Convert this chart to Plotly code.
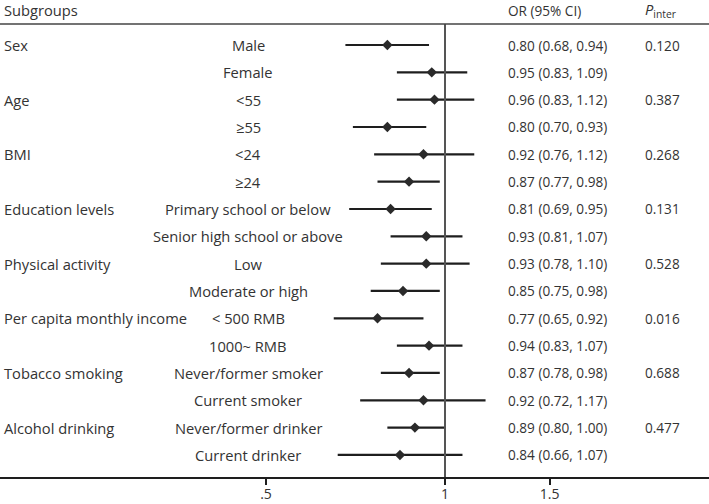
import plotly.graph_objects as go
import math

categories = ["Sex", "Age", "BMI", "Education levels", "Physical activity",
              "Per capita monthly income", "Tobacco smoking", "Alcohol drinking"]
subgroups = ["Male", "Female", "<55", "≥55", "<24", "≥24",
             "Primary school or below", "Senior high school or above",
             "Low", "Moderate or high", "< 500 RMB", "1000~ RMB",
             "Never/former smoker", "Current smoker",
             "Never/former drinker", "Current drinker"]
or_vals = [0.80, 0.95, 0.96, 0.80, 0.92, 0.87, 0.81, 0.93,
           0.93, 0.85, 0.77, 0.94, 0.87, 0.92, 0.89, 0.84]
ci_low = [0.68, 0.83, 0.83, 0.70, 0.76, 0.77, 0.69, 0.81,
          0.78, 0.75, 0.65, 0.83, 0.78, 0.72, 0.80, 0.66]
ci_high = [0.94, 1.09, 1.12, 0.93, 1.12, 0.98, 0.95, 1.07,
           1.10, 0.98, 0.92, 1.07, 0.98, 1.17, 1.00, 1.07]
p_inter = ["0.120", "0.387", "0.268", "0.131", "0.528", "0.016", "0.688", "0.477"]
tick_vals = [0.5, 1, 1.5]
tick_text = [".5", "1", "1.5"]

W, H = 709, 504
FONT = "Open Sans"
TXT = "#333333"
LBL = 14.7
NUM = 13.6

rows = list(range(len(subgroups)))

# CI lines as one trace with gaps
lx, ly = [], []
for i in rows:
    lx += [ci_low[i], ci_high[i], None]
    ly += [i, i, None]

fig = go.Figure()
fig.add_trace(go.Scatter(x=lx, y=ly, mode="lines",
                         line=dict(color="#1e1e1e", width=2.2),
                         hoverinfo="skip", showlegend=False))
fig.add_trace(go.Scatter(x=or_vals, y=rows, mode="markers",
                         marker=dict(symbol="diamond", size=8, color="#2a2a2a"),
                         showlegend=False))

# pixel geometry
x1_px = 445.0
px_per_log10 = (445.0 - 266.0) / math.log10(2)
xr = [(0 - x1_px) / px_per_log10, (W - x1_px) / px_per_log10]
top_px, bot_px = 24.0, 477.0
row0_px, step_px = 45.0, 27.33
yr = [(bot_px - row0_px) / step_px, (top_px - row0_px) / step_px]

def px(x):
    return x / W

ann = []
for k, c in enumerate(categories):
    ann.append(dict(x=px(2), y=2 * k, xref="paper", yref="y", text=c,
                    xanchor="left", yanchor="middle", showarrow=False,
                    font=dict(size=LBL)))
for i, s in enumerate(subgroups):
    ann.append(dict(x=px(248), y=i, xref="paper", yref="y", text=s,
                    xanchor="center", yanchor="middle", showarrow=False,
                    font=dict(size=LBL)))
    ann.append(dict(x=px(506), y=i, xref="paper", yref="y",
                    text=f"{or_vals[i]:.2f} ({ci_low[i]:.2f}, {ci_high[i]:.2f})",
                    xanchor="left", yanchor="middle", showarrow=False,
                    font=dict(size=NUM)))
for k, p in enumerate(p_inter):
    ann.append(dict(x=px(643), y=2 * k, xref="paper", yref="y", text=p,
                    xanchor="left", yanchor="middle", showarrow=False,
                    font=dict(size=NUM)))

hdr_y = (bot_px - 10.0) / (bot_px - top_px)
ann.append(dict(x=px(2), y=hdr_y, xref="paper", yref="paper", text="Subgroups",
                xanchor="left", yanchor="middle", showarrow=False,
                font=dict(size=LBL)))
ann.append(dict(x=px(506), y=hdr_y, xref="paper", yref="paper", text="OR (95% CI)",
                xanchor="left", yanchor="middle", showarrow=False,
                font=dict(size=NUM)))
ann.append(dict(x=px(643), y=hdr_y, xref="paper", yref="paper",
                text="<i>P</i><sub>inter</sub>",
                xanchor="left", yanchor="middle", showarrow=False,
                font=dict(size=LBL)))

shapes = [
    dict(type="line", xref="x", yref="paper", x0=1, x1=1, y0=0, y1=1,
         line=dict(color="#555555", width=2)),
    dict(type="line", xref="paper", yref="paper", x0=0, x1=1, y0=1, y1=1,
         line=dict(color="#444444", width=1.5)),
]

fig.update_layout(
    width=W, height=H,
    margin=dict(l=0, r=0, t=int(top_px), b=int(H - bot_px), autoexpand=False),
    paper_bgcolor="white", plot_bgcolor="white",
    font=dict(family=FONT, size=14, color=TXT),
    annotations=ann, shapes=shapes,
    xaxis=dict(type="log", range=xr, tickvals=tick_vals, ticktext=tick_text,
               showgrid=False, zeroline=False, showline=True, automargin=False,
               linecolor="#1e1e1e", linewidth=2, ticks="outside",
               ticklen=6, tickwidth=1.5, tickcolor="#1e1e1e",
               ticklabelstandoff=-3,
               tickfont=dict(family=FONT, size=14, color=TXT)),
    yaxis=dict(range=yr, showgrid=False, zeroline=False, showline=False,
               showticklabels=False, ticks="", automargin=False),
)

fig.write_html("out.html", config={"displayModeBar": False},
               post_script="document.body.style.margin='0';document.body.style.padding='0';")
